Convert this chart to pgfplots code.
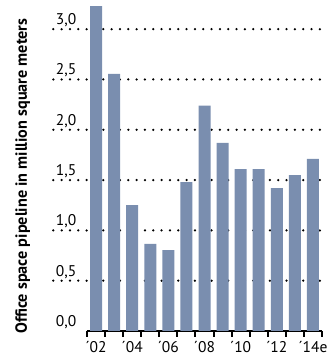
\documentclass[border=0pt]{standalone}
\usepackage{pgfplots}
\pgfplotsset{compat=1.18}
\usepackage{fontspec}
\setmainfont{PT Sans}
\definecolor{barblue}{RGB}{122,142,175}
\begin{document}
\begin{tikzpicture}[x=1pt,y=1pt]
\useasboundingbox (-87,-25) rectangle (244,331);
\begin{axis}[
  at={(0,0)}, anchor=south west,
  scale only axis, width=235pt, height=327pt,
  xmin=-0.5, xmax=12.5, ymin=0, ymax=3.25,
  clip=false,
  axis x line=bottom, axis y line=left,
  axis line style={-},
  y axis line style={draw=none},
  x axis line style={line width=2.2pt},
  ytick={0,0.5,1,1.5,2,2.5,3},
  ytick style={draw=none},
  /pgf/number format/assume math mode=true,
  /pgf/number format/use comma,
  /pgf/number format/fixed,
  /pgf/number format/fixed zerofill,
  /pgf/number format/precision=1,
  yticklabel style={anchor=base east, inner sep=0pt, xshift=-7.7pt, yshift=4.5pt, font=\fontsize{15.5}{18}\selectfont},
  xtick={-0.5,0.5,1.5,2.5,3.5,4.5,5.5,6.5,7.5,8.5,9.5,10.5,11.5,12.5},
  xticklabels={},
  xtick style={draw=black, line width=2pt},
  every major x tick/.append style={line width=2pt, black},
  xtick align=outside,
  major tick length=5.5pt,
  extra x ticks={0,2,4,6,8,10,12},
  extra x tick labels={´02,´04,´06,´08,´10,´12,´14e},
  extra x tick style={major tick length=0pt, xticklabel style={anchor=base, inner sep=0pt, yshift=-22pt, font=\fontsize{15.5}{18}\selectfont}},
]
\pgfplotsset{gridline/.style={draw=black, line width=2.5pt, line cap=round, dash pattern=on 0pt off 8.33pt, forget plot}}
\addplot[gridline] coordinates {(-2.364,0.5) (12.39,0.5)};
\addplot[gridline] coordinates {(-2.364,1.0) (12.39,1.0)};
\addplot[gridline] coordinates {(-2.364,1.5) (12.39,1.5)};
\addplot[gridline] coordinates {(-2.364,2.0) (12.39,2.0)};
\addplot[gridline] coordinates {(-2.364,2.5) (12.39,2.5)};
\addplot[gridline] coordinates {(-2.364,3.0) (12.39,3.0)};
\addplot[ybar, bar width=12pt, bar shift=0pt, fill=barblue, draw=none] coordinates {
(0,3.23) (1,2.555) (2,1.25) (3,0.865) (4,0.805) (5,1.48) (6,2.24)
(7,1.87) (8,1.61) (9,1.61) (10,1.42) (11,1.55) (12,1.71)};
\end{axis}
\node[rotate=90, anchor=base west, inner sep=0pt, font=\bfseries\fontsize{16.2}{18}\selectfont] at (-60,-3) {Office space pipeline in million square meters};
\end{tikzpicture}
\end{document}
